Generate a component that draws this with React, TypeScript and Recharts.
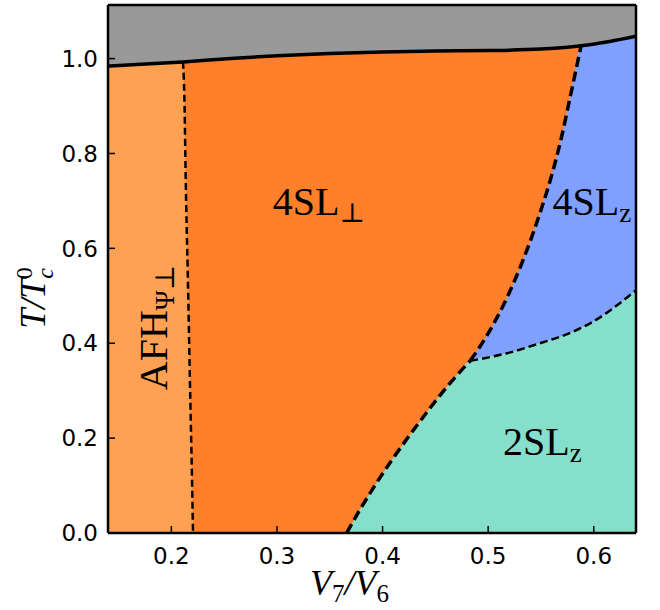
import React from 'react'
import { ComposedChart, Area, Line, XAxis, YAxis, ReferenceDot } from 'recharts'

const X_MIN = 0.14
const X_MAX = 0.64
const Y_MAX = 1.113

const X_TICKS = [0.2, 0.3, 0.4, 0.5, 0.6]
const Y_TICKS = [0, 0.2, 0.4, 0.6, 0.8, 1.0]

// transition to the disordered phase (solid line)
const tcX = [0.14, 0.18, 0.211, 0.26, 0.3, 0.35, 0.4, 0.45, 0.5, 0.55, 0.575, 0.588, 0.615, 0.64]
const tcY = [0.984, 0.989, 0.993, 1.001, 1.006, 1.011, 1.014, 1.016, 1.017, 1.02, 1.024, 1.027, 1.036, 1.047]

// AFH / 4SL_perp boundary
const afhX = [0.211, 0.2125, 0.2136, 0.2155, 0.2175, 0.2195, 0.2205]
const afhY = [0.993, 0.9, 0.744, 0.55, 0.33, 0.118, 0]

// 4SL_perp / 2SL_z, from the bottom up to the triple point
const perpTealX = [0.366, 0.378, 0.391, 0.407, 0.423, 0.438, 0.454, 0.469, 0.483]
const perpTealY = [0, 0.047, 0.094, 0.148, 0.198, 0.243, 0.289, 0.329, 0.363]

// 4SL_perp / 4SL_z, from the triple point up to Tc
const perpBlueX = [0.483, 0.499, 0.518, 0.533, 0.549, 0.56, 0.569, 0.577, 0.588]
const perpBlueY = [0.363, 0.417, 0.497, 0.575, 0.674, 0.753, 0.83, 0.912, 1.027]

// 4SL_z / 2SL_z
const blueTealX = [0.483, 0.518, 0.549, 0.58, 0.599, 0.625, 0.64]
const blueTealY = [0.363, 0.379, 0.4, 0.424, 0.445, 0.485, 0.512]

const pts = (xs: number[], ys: number[]) => xs.map((x, i) => ({ x, y: ys[i] }))

const tcPts = pts(tcX, tcY)
const afhPts = pts(afhX, afhY)
const perpTealPts = pts(perpTealX, perpTealY)
const perpBluePts = pts(perpBlueX, perpBlueY)
const blueTealPts = pts(blueTealX, blueTealY)

const lightOrangeArea = [...tcPts.filter((p) => p.x < afhX[0]), ...afhPts]
const blueArea = [...perpBluePts, ...tcPts.filter((p) => p.x > perpBlueX[perpBlueX.length - 1])]
const tealArea = [...perpTealPts, ...blueTealPts.slice(1)]

const GRAY = '#999999'
const LIGHT_ORANGE = '#FFA152'
const ORANGE = '#FF7F2A'
const BLUE = '#80A0FF'
const TEAL = '#86DFCB'

const SERIF = '"Liberation Serif", "DejaVu Serif", serif'
const tickStyle = { fill: '#000', fontSize: 23, fontFamily: '"DejaVu Sans", sans-serif' }
const frame = { stroke: '#000', strokeWidth: 2.5 }
const tickLn = { stroke: '#000', strokeWidth: 1.5 }

const regionLabel = (main: string, sub: string, rotate = false) => (props: any) => {
  const { x, y } = props.viewBox
  return (
    <text
      x={x}
      y={y}
      fill="#000"
      fontFamily={SERIF}
      fontSize={40}
      transform={rotate ? `rotate(-90 ${x} ${y})` : undefined}
    >
      {main}
      <tspan fontSize={27} dy={7}>{sub}</tspan>
    </text>
  )
}

const XLabel = () => (
  <text x={310} y={595} fill="#000" fontFamily={SERIF} fontStyle="italic" fontSize={36}>
    V<tspan fontSize={25} dy={7} fontStyle="normal">7</tspan>
    <tspan dy={-7}>/V</tspan>
    <tspan fontSize={25} dy={7} fontStyle="normal">6</tspan>
  </text>
)

const YLabel = () => (
  <text
    x={45}
    y={298}
    fill="#000"
    fontFamily={SERIF}
    fontStyle="italic"
    fontSize={36}
    textAnchor="middle"
    transform="rotate(-90 45 298)"
  >
    T/T<tspan fontSize={24} dy={8}>c</tspan>
    <tspan fontSize={24} dx={-11} dy={-21} fontStyle="normal">0</tspan>
  </text>
)

const fillArea = (data: any[], color: string, key: any = 'y') => (
  <Area data={data} dataKey={key} type="monotone" fill={color} fillOpacity={1} stroke="none" isAnimationActive={false} />
)

const boundary = (data: any[], width: number, dash?: string) => (
  <Line
    data={data}
    dataKey="y"
    type="monotone"
    stroke="#000"
    strokeWidth={width}
    strokeDasharray={dash}
    dot={false}
    activeDot={false}
    isAnimationActive={false}
  />
)

export default function App() {
  return (
    <div style={{ position: 'absolute', left: 0, top: 0, width: 660, height: 610, background: '#fff' }}>
      <ComposedChart width={660} height={610} margin={{ top: 4, right: 23, bottom: 0, left: 0 }}>
        <XAxis
          dataKey="x"
          type="number"
          domain={[X_MIN, X_MAX]}
          allowDataOverflow
          ticks={X_TICKS}
          interval={0}
          tickFormatter={(v: number) => v.toFixed(1)}
          height={77}
          tickSize={-7}
          tickMargin={22}
          tick={tickStyle}
          axisLine={frame}
          tickLine={tickLn}
          label={<XLabel />}
        />
        <XAxis
          xAxisId="top"
          orientation="top"
          dataKey="x"
          type="number"
          domain={[X_MIN, X_MAX]}
          allowDataOverflow
          ticks={X_TICKS}
          interval={0}
          height={1}
          tickSize={-7}
          tick={false}
          axisLine={frame}
          tickLine={tickLn}
        />
        <YAxis
          type="number"
          domain={[0, Y_MAX]}
          allowDataOverflow
          ticks={Y_TICKS}
          interval={0}
          tickFormatter={(v: number) => v.toFixed(1)}
          width={108}
          tickSize={-7}
          tickMargin={17}
          tick={tickStyle}
          axisLine={frame}
          tickLine={tickLn}
          label={<YLabel />}
        />
        <YAxis
          yAxisId="right"
          orientation="right"
          type="number"
          domain={[0, Y_MAX]}
          allowDataOverflow
          ticks={Y_TICKS}
          interval={0}
          width={1}
          tickSize={-7}
          tick={false}
          axisLine={frame}
          tickLine={tickLn}
        />

        {fillArea(tcPts, GRAY, (d: any) => [d.y, Y_MAX])}
        {fillArea(tcPts, ORANGE)}
        {fillArea(lightOrangeArea, LIGHT_ORANGE)}
        {fillArea(blueArea, BLUE)}
        {fillArea(tealArea, TEAL)}

        {boundary(tcPts, 3.5)}
        {boundary(afhPts, 2.5, '7 4')}
        {boundary(perpTealPts, 3.5, '10 5')}
        {boundary(perpBluePts, 3.5, '10 5')}
        {boundary(blueTealPts, 2.5, '8 4')}

        <ReferenceDot x={0.296} y={0.67} r={0} fill="none" stroke="none" isFront label={{ content: regionLabel('4SL', '⊥') }} />
        <ReferenceDot x={0.561} y={0.67} r={0} fill="none" stroke="none" isFront label={{ content: regionLabel('4SL', 'z') }} />
        <ReferenceDot x={0.514} y={0.164} r={0} fill="none" stroke="none" isFront label={{ content: regionLabel('2SL', 'z') }} />
        <ReferenceDot x={0.196} y={0.301} r={0} fill="none" stroke="none" isFront label={{ content: regionLabel('AFH', 'Ψ⊥', true) }} />
      </ComposedChart>
    </div>
  )
}
